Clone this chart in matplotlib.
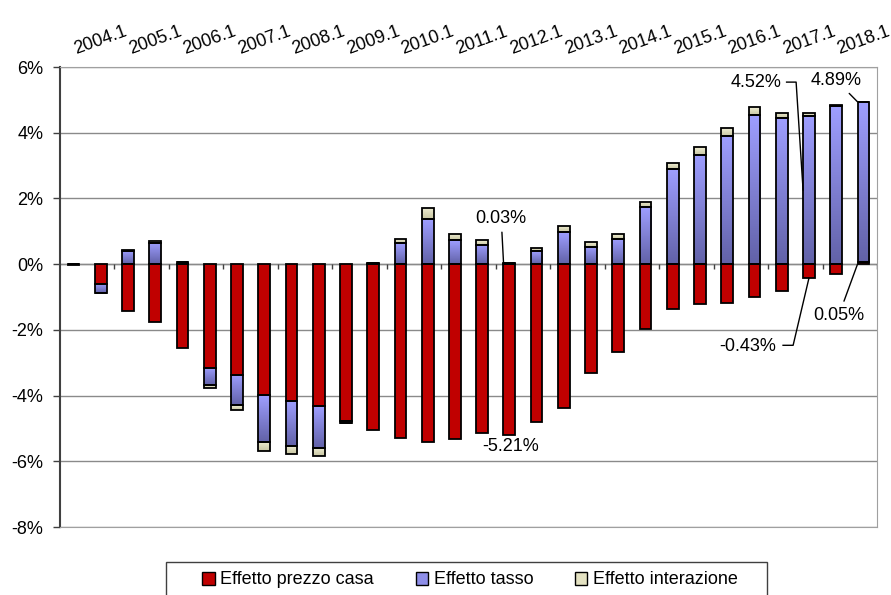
import numpy as np
import matplotlib
matplotlib.use('Agg')
import matplotlib.pyplot as plt
from matplotlib.colors import LinearSegmentedColormap
from matplotlib.patches import Patch, Rectangle

plt.rcParams['font.family'] = ['Liberation Sans', 'DejaVu Sans']

# half-year periods 2003.2 ... 2018.1 (30 bars), labelled every second bar
year_labels = ['2004.1', '2005.1', '2006.1', '2007.1', '2008.1', '2009.1', '2010.1',
               '2011.1', '2012.1', '2013.1', '2014.1', '2015.1', '2016.1', '2017.1',
               '2018.1']

# effects, in percentage points
prezzo_casa = [-0.02, -0.59, -1.42, -1.77, -2.54, -3.16, -3.38, -3.99, -4.16, -4.32,
               -4.78, -5.05, -5.29, -5.40, -5.33, -5.15, -5.21, -4.81, -4.37, -3.31,
               -2.68, -1.98, -1.37, -1.22, -1.18, -1.00, -0.83, -0.43, -0.29, 0.05]
tasso = [0.00, -0.28, 0.40, 0.65, 0.07, -0.53, -0.92, -1.43, -1.38, -1.27,
         -0.05, 0.04, 0.63, 1.36, 0.73, 0.58, 0.03, 0.39, 0.97, 0.53,
         0.77, 1.73, 2.90, 3.33, 3.90, 4.54, 4.44, 4.52, 4.80, 4.89]
interazione = [0.00, -0.02, 0.02, 0.04, 0.01, -0.08, -0.13, -0.28, -0.25, -0.25,
               -0.02, 0.00, 0.14, 0.36, 0.19, 0.14, 0.00, 0.11, 0.19, 0.13,
               0.15, 0.17, 0.18, 0.22, 0.23, 0.23, 0.17, 0.07, 0.05, 0.00]

RED = '#c00000'
BLUE_TOP, BLUE_BOT = '#9e9eff', '#6262a8'
TAN_TOP, TAN_BOT = '#f0eed4', '#c8c6a2'
W = 0.43
FS = 13

fig = plt.figure(figsize=(8.91, 5.95), dpi=100)
ax = fig.add_axes([60 / 891, 1 - 527 / 595, 817 / 891, 460 / 595])

n = len(prezzo_casa)
x = np.arange(n)
pos_base = np.zeros(n)
neg_base = np.zeros(n)


def stack(vals):
    vals = np.asarray(vals, dtype=float)
    bottoms = np.where(vals >= 0, pos_base, neg_base)
    pos_base[:] += np.where(vals >= 0, vals, 0)
    neg_base[:] += np.where(vals < 0, vals, 0)
    return vals, bottoms


def gradient_bars(vals, bottoms, top_c, bot_c):
    cmap = LinearSegmentedColormap.from_list('g', [bot_c, top_c])
    grad = np.linspace(0, 1, 64).reshape(-1, 1)
    bars = ax.bar(x, vals, W, bottom=bottoms, facecolor='none',
                  edgecolor='black', linewidth=1.3, zorder=4)
    for b in bars:
        x0, y0 = b.get_x(), b.get_y()
        w, h = b.get_width(), b.get_height()
        lo, hi = min(y0, y0 + h), max(y0, y0 + h)
        if hi - lo <= 0:
            continue
        im = ax.imshow(grad, cmap=cmap, extent=[x0, x0 + w, lo, hi],
                       origin='lower', aspect='auto', zorder=3, interpolation='bilinear')
        im.set_clip_path(b)


v, b = stack(prezzo_casa)
ax.bar(x, v, W, bottom=b, color=RED, edgecolor='black', linewidth=1.3, zorder=4)
v, b = stack(tasso)
gradient_bars(v, b, BLUE_TOP, BLUE_BOT)
v, b = stack(interazione)
gradient_bars(v, b, TAN_TOP, TAN_BOT)

ax.set_xlim(-0.5, n - 0.5)
ax.set_ylim(-8, 6)
yt = np.arange(-8, 7, 2)
ax.set_yticks(yt)
ax.set_yticklabels([f'{t}%' for t in yt], fontsize=FS)
ax.tick_params(axis='y', length=5, width=1, color='#404040', pad=7)
ax.yaxis.grid(True, color='#8a8a8a', linewidth=1)
ax.set_axisbelow(True)

# category labels above the plot
ax.xaxis.tick_top()
ax.set_xticks(x[1::2])
ax.set_xticklabels(year_labels, fontsize=FS, rotation=20, ha='center')
ax.tick_params(axis='x', length=0, pad=7)

# tick marks on the zero line between pairs of periods
ax.vlines(np.arange(1.5, n, 2), -0.16, 0, color='#404040', linewidth=1, zorder=2)
ax.axhline(0, color='#8a8a8a', linewidth=1, zorder=1)

for s in ['top', 'right', 'bottom']:
    ax.spines[s].set_color('#a0a0a0')
ax.spines['left'].set_color('#404040')
ax.spines['left'].set_linewidth(1.5)

# data labels
total_last = prezzo_casa[-1] + tasso[-1]
line_kw = dict(color='black', linewidth=1)
ax.annotate('0.03%', xy=(16 - W / 2, tasso[16] + 0.03), xytext=(15.7, 1.40),
            ha='center', va='center', fontsize=FS,
            arrowprops=dict(arrowstyle='-', lw=1, shrinkA=2, shrinkB=0))
ax.text(16.06, -5.54, '-5.21%', ha='center', va='center', fontsize=FS)

ax.text(25.06, 5.54, '4.52%', ha='center', va='center', fontsize=FS)
ax.plot([26.18, 26.53, 27 - W / 2], [5.54, 5.54, tasso[27] / 2], **line_kw, zorder=5)

ax.text(24.77, -2.50, '-0.43%', ha='center', va='center', fontsize=FS)
ax.plot([26.05, 26.42, 27], [-2.47, -2.47, prezzo_casa[27]], **line_kw, zorder=5)

ax.annotate('4.89%', xy=(29 - W / 2, total_last), xytext=(28.0, 5.60),
            ha='center', va='center', fontsize=FS,
            arrowprops=dict(arrowstyle='-', lw=1, shrinkA=2, shrinkB=0))
ax.annotate('0.05%', xy=(29 - W / 2, 0), xytext=(28.1, -1.55),
            ha='center', va='center', fontsize=FS,
            arrowprops=dict(arrowstyle='-', lw=1, shrinkA=2, shrinkB=0))

# legend in a box running off the bottom edge
fig.patches.append(Rectangle((166 / 891, -0.02), 601 / 891, 1 - 562 / 595 + 0.02,
                             transform=fig.transFigure, facecolor='white',
                             edgecolor='#404040', linewidth=1))
handles = [Patch(facecolor=RED, edgecolor='black', label='Effetto prezzo casa'),
           Patch(facecolor='#8e8ee8', edgecolor='black', label='Effetto tasso'),
           Patch(facecolor='#e4e2c2', edgecolor='black', label='Effetto interazione')]
fig.legend(handles=handles, loc='center', bbox_to_anchor=(470 / 891, 1 - 580 / 595),
           ncol=3, frameon=False, fontsize=FS, handlelength=0.7, handleheight=0.7,
           handletextpad=0.3, columnspacing=2.3)

fig.savefig('out.png', dpi=100)
